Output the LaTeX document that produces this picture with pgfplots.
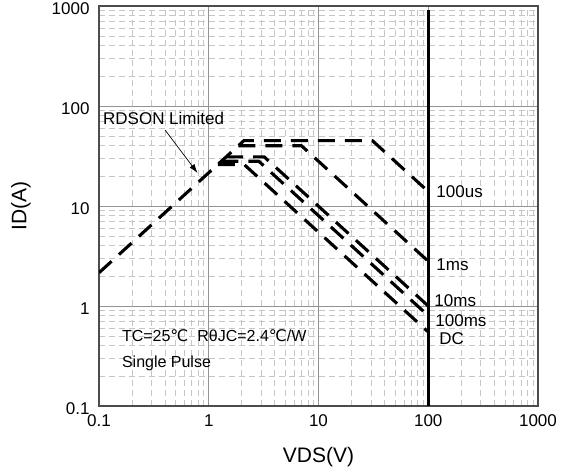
\documentclass[border=0pt]{standalone}
\usepackage{fontspec}
\setmainfont{Liberation Sans}
\newfontfamily\dejavu{DejaVu Sans}
\usepackage{pgfplots}
\pgfplotsset{compat=1.18}
\usetikzlibrary{arrows.meta}
\newcommand{\degC}{{\dejavu ℃}}
\tikzset{soa/.style={black, no marks, line width=3.1pt, dash pattern=on 17pt off 10pt}}
\begin{document}
\begin{tikzpicture}
\begin{axis}[name=ax, scale only axis, width=439pt, height=400pt,
  xmode=log, ymode=log, xmin=0.1, xmax=1000, ymin=0.1, ymax=1000,
  xtick={0.1,1,10,100,1000}, xticklabels={0.1,1,10,100,1000},
  ytick={0.1,1,10,100,1000}, yticklabels={0.1,1,10,100,1000},
  minor xtick={0.2,0.3,0.4,0.5,0.6,0.7,0.8,0.9,2,3,4,5,6,7,8,9,20,30,40,50,60,70,80,90,200,300,400,500,600,700,800,900},
  minor ytick={0.2,0.3,0.4,0.5,0.6,0.7,0.8,0.9,2,3,4,5,6,7,8,9,20,30,40,50,60,70,80,90,200,300,400,500,600,700,800,900},
  grid=both,
  major grid style={draw=gray!85, line width=0.9pt},
  minor grid style={draw=gray!45, line width=0.7pt, dash pattern=on 6pt off 4pt},
  axis line style={draw=black!70, line width=1.5pt},
  major tick length=0pt, minor tick length=0pt,
  /pgf/number format/assume math mode=true,
  tick label style={font=\fontsize{17}{20}\selectfont, text=black},
  xticklabel style={yshift=-5pt},
  yticklabel style={xshift=-6pt, yshift=-3pt},
]
% 100us (with RDS(on) limit line)
\addplot[soa] coordinates {(0.1,2.15) (2.09,45) (31,45) (100,13.95)};
% 1ms
\addplot[soa] coordinates {(1.86,40) (7,40) (100,2.8)};
% 10ms
\addplot[soa] coordinates {(1.44,31) (3.2,31) (100,1.0)};
% 100ms
\addplot[soa] coordinates {(1.30,28) (2.86,28) (100,0.8)};
% DC
\addplot[soa] coordinates {(1.21,26) (2.1,26) (100,0.55)};
% vertical line at 100 V
\addplot[black, no marks, line width=3pt, solid] coordinates {(100,0.1) (100,910)};

\draw[black, line width=0.7pt, -{Latex[length=9pt,width=6pt]}] (axis cs:0.40,57.5) -- (axis cs:0.79,21.4);

\node[anchor=west, inner sep=0pt, font=\fontsize{17}{20}\selectfont] at (rel axis cs:0.009,0.72) {RDSON Limited};
\node[anchor=west, inner sep=0pt, font=\fontsize{16}{18}\selectfont] at (rel axis cs:0.052,0.175) {TC=25\degC\ \ RθJC=2.4\degC/W};
\node[anchor=west, inner sep=0pt, font=\fontsize{16}{18}\selectfont] at (rel axis cs:0.052,0.106) {Single Pulse};

\node[anchor=west, inner sep=0pt, font=\fontsize{17}{20}\selectfont] at (axis cs:100,13.9) [xshift=8pt] {100us};
\node[anchor=west, inner sep=0pt, font=\fontsize{17}{20}\selectfont] at (axis cs:100,2.57) [xshift=8pt] {1ms};
\node[anchor=west, inner sep=0pt, font=\fontsize{17}{20}\selectfont] at (axis cs:100,1.12) [xshift=6pt] {10ms};
\node[anchor=west, inner sep=0pt, font=\fontsize{17}{20}\selectfont] at (axis cs:100,0.71) [xshift=7pt] {100ms};
\node[anchor=west, inner sep=0pt, font=\fontsize{17}{20}\selectfont] at (axis cs:100,0.47) [xshift=11pt] {DC};
\end{axis}
\node[font=\fontsize{21}{24}\selectfont] at ([yshift=-51pt]ax.south) {VDS(V)};
\node[rotate=90, font=\fontsize{21}{24}\selectfont] at ([xshift=-78pt]ax.west) {ID(A)};
\pgfresetboundingbox
\path ([shift={(-99pt,-69pt)}]ax.south west) rectangle ([shift={(32pt,6pt)}]ax.north east);
\end{tikzpicture}
\end{document}
